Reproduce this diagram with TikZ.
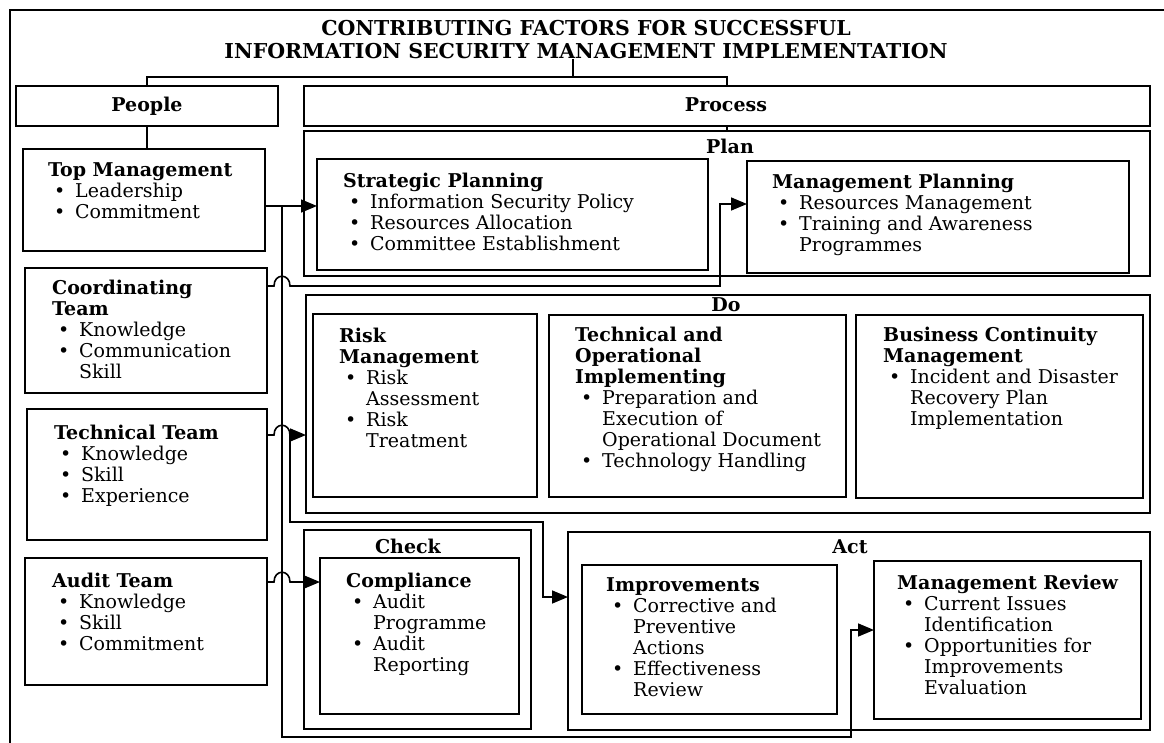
\documentclass[tikz,border=0pt]{standalone}
\usepackage{fontspec}
\setmainfont{DejaVu Serif}
\usetikzlibrary{arrows.meta,calc}
\newcommand{\bu}{\makebox[27pt][l]{\hspace{6pt}\textbullet}}
\newcommand{\ind}{\hspace*{27pt}}
\newcommand{\mkbox}[5]{\node[box, minimum width={#4pt-#2pt}, minimum height={#5pt-#3pt}] (#1) at ({(#2+#4)/2},{(#3+#5)/2}) {};}
\begin{document}
\begin{tikzpicture}[x=1pt,y=-1pt,
  box/.style={draw, line width=1.5pt, inner sep=0pt, outer sep=0pt},
  txt/.style={anchor=north west, align=left, inner sep=0pt, font=\fontsize{19}{21}\selectfont},
  lbl/.style={anchor=base, inner sep=0pt, font=\fontsize{19}{21}\selectfont\bfseries},
  conn/.style={line width=1.6pt},
  arr/.style={conn, -{Triangle[length=16pt,width=13pt]}}
]
\useasboundingbox (0,0) rectangle (1164,743);
\draw[line width=1.5pt] (10,743) -- (10,10) -- (1164,10);

% title
\node[anchor=north, align=center, inner sep=0pt, font=\fontsize{20.5}{21}\selectfont\bfseries] (title) at (586,20.5)
  {\strut CONTRIBUTING FACTORS FOR SUCCESSFUL\\INFORMATION SECURITY MANAGEMENT IMPLEMENTATION};

% boxes
\mkbox{people}{16}{86}{278}{126}
\mkbox{process}{304}{86}{1150}{126}
\mkbox{plan}{304}{131}{1150}{276}
\mkbox{strat}{317}{159}{708}{270}
\mkbox{mplan}{747}{161}{1129}{273}
\mkbox{tm}{23}{149}{265}{251}
\mkbox{ct}{25}{268}{267}{393}
\mkbox{tt}{27}{409}{267}{540}
\mkbox{at}{25}{558}{267}{685}
\mkbox{do}{306}{295}{1150}{513}
\mkbox{risk}{313}{314}{537}{497}
\mkbox{techop}{549}{315}{846}{497}
\mkbox{bcm}{856}{315}{1143}{498}
\mkbox{check}{304}{530}{531}{729}
\mkbox{comp}{320}{558}{519}{714}
\mkbox{act}{568}{532}{1150}{730}
\mkbox{impr}{582}{565}{837}{714}
\mkbox{mrev}{874}{561}{1141}{719}

% labels
\node[lbl] (peopleL) at (147,112) {People};
\node[lbl] (processL) at (726,112) {Process};
\node[lbl] (planL) at (730,154) {Plan};
\node[lbl] (doL) at (726,311) {Do};
\node[lbl] (checkL) at (408,553) {Check};
\node[lbl] (actL) at (850,553) {Act};

% texts
\node[txt] (tmT) at (48,161.3) {\strut\textbf{Top Management}\\ \bu Leadership\\ \bu Commitment};
\node[txt] (ctT) at (52,279.3) {\strut\textbf{Coordinating}\\ \textbf{Team}\\ \bu Knowledge\\ \bu Communication\\ \ind Skill};
\node[txt] (ttT) at (54,424.3) {\strut\textbf{Technical Team}\\ \bu Knowledge\\ \bu Skill\\ \bu Experience};
\node[txt] (atT) at (52,572.3) {\strut\textbf{Audit Team}\\ \bu Knowledge\\ \bu Skill\\ \bu Commitment};
\node[txt] (stratT) at (343,172.3) {\strut\textbf{Strategic Planning}\\ \bu Information Security Policy\\ \bu Resources Allocation\\ \bu Committee Establishment};
\node[txt] (mplanT) at (772,173.3) {\strut\textbf{Management Planning}\\ \bu Resources Management\\ \bu Training and Awareness\\ \ind Programmes};
\node[txt] (riskT) at (339,327.3) {\strut\textbf{Risk}\\ \textbf{Management}\\ \bu Risk\\ \ind Assessment\\ \bu Risk\\ \ind Treatment};
\node[txt] (techopT) at (575,326.3) {\strut\textbf{Technical and}\\ \textbf{Operational}\\ \textbf{Implementing}\\ \bu Preparation and\\ \ind Execution of\\ \ind Operational Document\\ \bu Technology Handling};
\node[txt] (bcmT) at (883,326.3) {\strut\textbf{Business Continuity}\\ \textbf{Management}\\ \bu Incident and Disaster\\ \ind Recovery Plan\\ \ind Implementation};
\node[txt] (compT) at (346,572.3) {\strut\textbf{Compliance}\\ \bu Audit\\ \ind Programme\\ \bu Audit\\ \ind Reporting};
\node[txt] (imprT) at (606,576.3) {\strut\textbf{Improvements}\\ \bu Corrective and\\ \ind Preventive\\ \ind Actions\\ \bu Effectiveness\\ \ind Review};
\node[txt] (mrevT) at (897,574.3) {\strut\textbf{Management Review}\\ \bu Current Issues\\ \ind Identification\\ \bu Opportunities for\\ \ind Improvements\\ \ind Evaluation};

% tree connectors
\coordinate (j) at (573,77);
\draw[conn] (title.south -| j) -- (j);
\draw[conn] (people.north) |- (j) -| (process.north);
\draw[conn] (people.south) -- (people.south |- tm.north);
\draw[conn] (process.south) -- (plan.north);

% top management
\draw[arr] ([yshift=-6pt]tm.east) -- ([yshift=-6pt]tm.east -| strat.west);
\coordinate (bus) at (282,206);
\draw[arr] (bus) |- (851,737) |- ([yshift=10pt]mrev.west);

% coordinating team
\draw[arr] (ct.east |- 0,286) -- (274,286) .. controls (274,273) and (290,273) .. (290,286) -- (720,286) |- ([yshift=13pt]mplan.west);

% technical team
\draw[conn] (tt.east |- 0,435) -- (274,435) .. controls (274,422) and (290,422) .. (290,435) coordinate (br);
\draw[arr] (br) -- (br -| do.west);
\draw[arr] (br) |- (543,522) |- ([yshift=34pt]act.west);

% audit team
\draw[arr] (at.east |- 0,582) -- (274,582) .. controls (274,569) and (290,569) .. (290,582) -- (comp.west |- 0,582);
\end{tikzpicture}
\end{document}
